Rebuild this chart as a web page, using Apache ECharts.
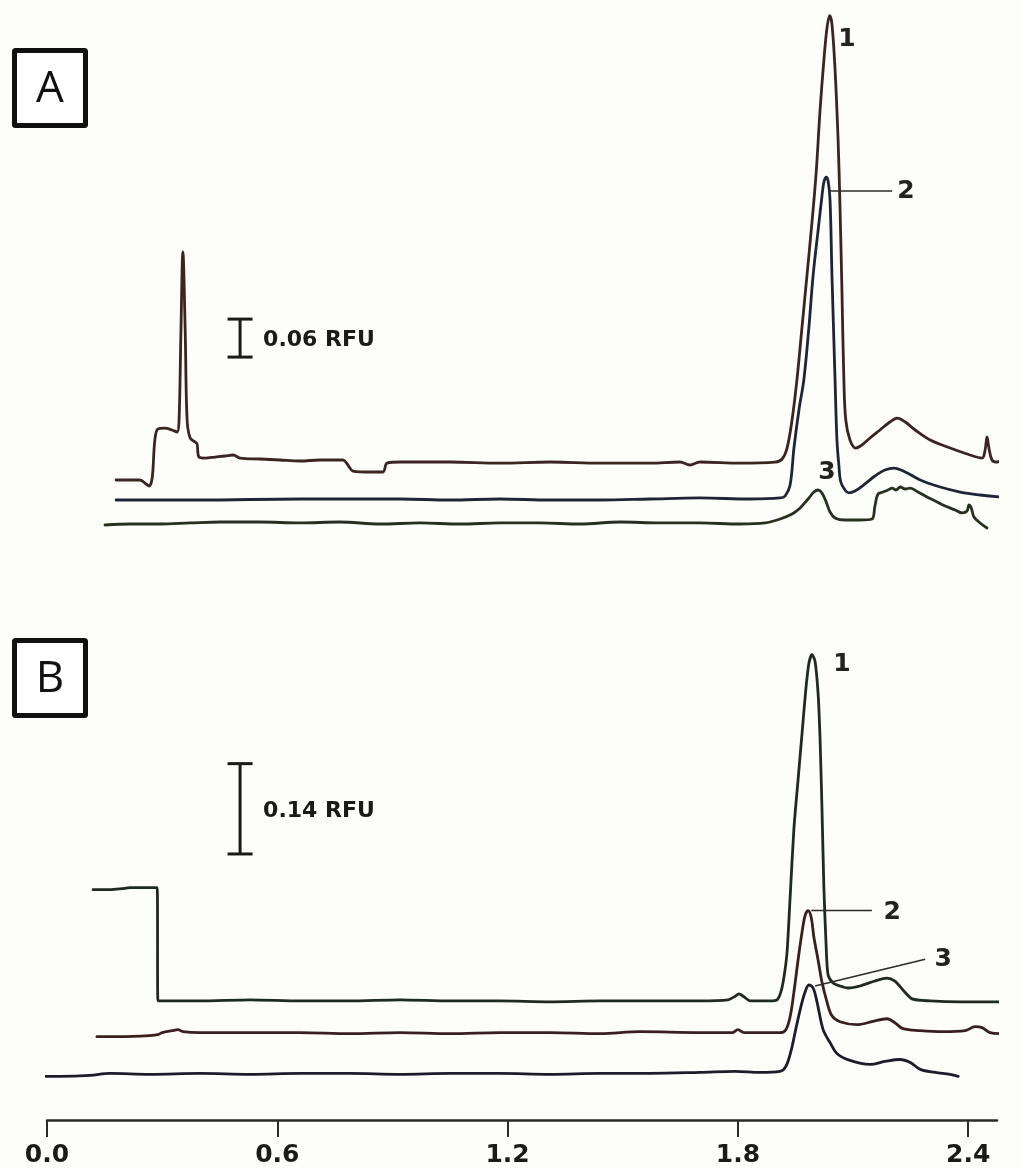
<!DOCTYPE html>
<html>
<head>
<meta charset="utf-8">
<title>Electropherograms A and B</title>
<script src="https://cdn.jsdelivr.net/npm/echarts@6/dist/echarts.min.js"></script>
<style>
  html, body { margin: 0; padding: 0; background: #fdfdfa; }
  #chart { width: 1021px; height: 1168px; }
</style>
</head>
<body>
<div id="chart"></div>
<script>
// Migration time (min) vs. fluorescence (RFU); traces are drawn with vertical offsets.
const timeTicks = [0.0, 0.6, 1.2, 1.8, 2.4];

// ---- Panel A ----
const traceA1 = [
  [0.180, 0.0948], [0.242, 0.0948], [0.258, 0.0885], [0.266, 0.0853], [0.274, 0.0979],
  [0.281, 0.158], [0.289, 0.1754], [0.307, 0.1769], [0.326, 0.1738], [0.339, 0.1706],
  [0.344, 0.1896], [0.349, 0.3318], [0.354, 0.4550], [0.360, 0.3318], [0.365, 0.1896],
  [0.373, 0.1611], [0.386, 0.1548], [0.391, 0.1517], [0.396, 0.1311], [0.412, 0.1295],
  [0.438, 0.1311], [0.464, 0.1327], [0.485, 0.1343], [0.503, 0.1295], [0.555, 0.1280],
  [0.607, 0.1264], [0.659, 0.1248], [0.711, 0.1264], [0.771, 0.1264], [0.784, 0.1185],
  [0.797, 0.1090], [0.842, 0.1074], [0.875, 0.1074], [0.886, 0.1216], [0.920, 0.1232],
  [1.050, 0.1232], [1.180, 0.1216], [1.311, 0.1232], [1.441, 0.1216], [1.571, 0.1216],
  [1.649, 0.1232], [1.675, 0.1185], [1.701, 0.1232], [1.806, 0.1216], [1.897, 0.1232],
  [1.915, 0.1280], [1.928, 0.1453], [1.941, 0.1896], [1.954, 0.2543], [1.967, 0.3365],
  [1.980, 0.4186], [1.993, 0.5024], [2.004, 0.5813], [2.014, 0.6793], [2.024, 0.7583],
  [2.032, 0.8088], [2.039, 0.8286], [2.045, 0.8152], [2.053, 0.7441], [2.061, 0.6319],
  [2.066, 0.5261], [2.071, 0.3949], [2.076, 0.2543], [2.081, 0.1896], [2.092, 0.1580],
  [2.107, 0.1453], [2.123, 0.1501], [2.144, 0.1611], [2.170, 0.1738], [2.196, 0.1864],
  [2.215, 0.1927], [2.236, 0.1864], [2.262, 0.1738], [2.301, 0.1580], [2.353, 0.1453],
  [2.405, 0.1343], [2.436, 0.1295], [2.444, 0.1422], [2.449, 0.1627], [2.454, 0.1453],
  [2.462, 0.1264], [2.473, 0.1232], [2.483, 0.1248], [2.493, 0.1280], [2.504, 0.1232],
  [2.527, 0.1216]
];
const traceA2 = [
  [0.180, 0.0632], [0.399, 0.0632], [0.659, 0.0648], [0.920, 0.0648], [1.050, 0.0632],
  [1.180, 0.0648], [1.311, 0.0632], [1.441, 0.0632], [1.571, 0.0648], [1.701, 0.0664],
  [1.832, 0.0648], [1.910, 0.0664], [1.923, 0.0695], [1.936, 0.0869], [1.946, 0.1453],
  [1.959, 0.2054], [1.972, 0.2543], [1.985, 0.3365], [1.996, 0.4186], [2.009, 0.4897],
  [2.019, 0.5434], [2.024, 0.5655], [2.030, 0.5734], [2.035, 0.5671], [2.040, 0.5371],
  [2.045, 0.4186], [2.050, 0.3160], [2.053, 0.2543], [2.058, 0.1580], [2.063, 0.1185],
  [2.068, 0.0916], [2.079, 0.0790], [2.089, 0.0743], [2.105, 0.0774], [2.131, 0.0885],
  [2.157, 0.1011], [2.183, 0.1106], [2.207, 0.1137], [2.236, 0.1074], [2.275, 0.0948],
  [2.327, 0.0837], [2.379, 0.0758], [2.431, 0.0711], [2.483, 0.0679], [2.527, 0.0664]
];
const traceA3 = [
  [0.151, 0.0237], [0.216, 0.0253], [0.294, 0.0253], [0.373, 0.0269], [0.451, 0.0284],
  [0.555, 0.0284], [0.659, 0.0269], [0.763, 0.0284], [0.868, 0.0253], [0.972, 0.0269],
  [1.076, 0.0253], [1.180, 0.0269], [1.285, 0.0269], [1.389, 0.0253], [1.493, 0.0284],
  [1.597, 0.0269], [1.701, 0.0269], [1.806, 0.0253], [1.871, 0.0269], [1.910, 0.0332],
  [1.941, 0.0411], [1.962, 0.0506], [1.983, 0.0648], [1.998, 0.0758], [2.009, 0.0790],
  [2.019, 0.0743], [2.030, 0.0600], [2.040, 0.0442], [2.053, 0.0348], [2.079, 0.0316],
  [2.118, 0.0316], [2.149, 0.0332], [2.157, 0.0537], [2.165, 0.0727], [2.178, 0.0758],
  [2.191, 0.0790], [2.202, 0.0821], [2.212, 0.0790], [2.223, 0.0837], [2.236, 0.0806],
  [2.249, 0.0821], [2.269, 0.0758], [2.288, 0.0695], [2.314, 0.0616], [2.340, 0.0537],
  [2.366, 0.0474], [2.384, 0.0427], [2.397, 0.0458], [2.402, 0.0553], [2.408, 0.0506],
  [2.415, 0.0363], [2.431, 0.0269], [2.449, 0.0190]
];

// ---- Panel B ----
const traceB1 = [
  [0.120, 0.3569], [0.164, 0.3569], [0.195, 0.3585], [0.216, 0.3600], [0.255, 0.3600],
  [0.287, 0.3600], [0.289, 0.1846], [0.399, 0.1846], [0.529, 0.1862], [0.659, 0.1846],
  [0.789, 0.1846], [0.920, 0.1862], [1.050, 0.1846], [1.180, 0.1846], [1.311, 0.1831],
  [1.441, 0.1846], [1.571, 0.1846], [1.701, 0.1846], [1.774, 0.1862], [1.790, 0.1908],
  [1.803, 0.1954], [1.816, 0.1908], [1.832, 0.1846], [1.884, 0.1846], [1.902, 0.1862],
  [1.912, 0.1985], [1.920, 0.2215], [1.928, 0.2600], [1.936, 0.3446], [1.946, 0.4523],
  [1.957, 0.5292], [1.967, 0.5985], [1.977, 0.6677], [1.985, 0.7077], [1.993, 0.7215],
  [2.001, 0.7108], [2.009, 0.6600], [2.014, 0.5908], [2.019, 0.4831], [2.024, 0.3600],
  [2.030, 0.2677], [2.035, 0.2246], [2.048, 0.2123], [2.066, 0.2077], [2.087, 0.2046],
  [2.118, 0.2077], [2.157, 0.2154], [2.188, 0.2200], [2.209, 0.2154], [2.230, 0.2015],
  [2.254, 0.1877], [2.301, 0.1846], [2.379, 0.1831], [2.457, 0.1831], [2.527, 0.1831]
];
const traceB2 = [
  [0.130, 0.1292], [0.190, 0.1292], [0.268, 0.1308], [0.289, 0.1323], [0.300, 0.1354],
  [0.326, 0.1385], [0.341, 0.1400], [0.354, 0.1369], [0.399, 0.1354], [0.529, 0.1354],
  [0.659, 0.1354], [0.789, 0.1338], [0.920, 0.1354], [1.050, 0.1338], [1.180, 0.1354],
  [1.311, 0.1354], [1.441, 0.1338], [1.545, 0.1369], [1.701, 0.1354], [1.785, 0.1354],
  [1.800, 0.1400], [1.816, 0.1354], [1.910, 0.1354], [1.925, 0.1400], [1.936, 0.1600],
  [1.946, 0.1985], [1.957, 0.2492], [1.967, 0.2908], [1.975, 0.3169], [1.983, 0.3246],
  [1.991, 0.3138], [1.998, 0.2831], [2.009, 0.2477], [2.019, 0.2138], [2.032, 0.1831],
  [2.045, 0.1615], [2.066, 0.1523], [2.110, 0.1477], [2.149, 0.1523], [2.188, 0.1569],
  [2.209, 0.1508], [2.230, 0.1415], [2.275, 0.1385], [2.335, 0.1369], [2.392, 0.1385],
  [2.418, 0.1446], [2.436, 0.1431], [2.457, 0.1354], [2.483, 0.1338], [2.527, 0.1338]
];
const traceB3 = [
  [-0.023, 0.0677], [0.034, 0.0677], [0.112, 0.0692], [0.164, 0.0723], [0.268, 0.0708],
  [0.399, 0.0723], [0.529, 0.0708], [0.659, 0.0723], [0.789, 0.0723], [0.920, 0.0708],
  [1.050, 0.0723], [1.180, 0.0723], [1.311, 0.0708], [1.441, 0.0723], [1.571, 0.0723],
  [1.701, 0.0738], [1.793, 0.0754], [1.858, 0.0738], [1.910, 0.0754], [1.925, 0.0831],
  [1.938, 0.1062], [1.951, 0.1415], [1.964, 0.1754], [1.975, 0.1985], [1.985, 0.2092],
  [1.996, 0.2046], [2.006, 0.1831], [2.022, 0.1400], [2.040, 0.1200], [2.058, 0.1031],
  [2.092, 0.0923], [2.144, 0.0862], [2.183, 0.0908], [2.222, 0.0938], [2.249, 0.0892],
  [2.275, 0.0785], [2.314, 0.0738], [2.353, 0.0708], [2.374, 0.0677]
];

// Peak numbers: [text, time, RFU]
const peakLabelsA = [['1', 2.084, 0.790], ['2', 2.238, 0.5513], ['3', 2.032, 0.1074]];
const peakLabelsB = [['1', 2.071, 0.7062], ['2', 2.202, 0.3215], ['3', 2.335, 0.2492]];
// Leader lines from a peak apex to its number
const leaderA2 = [[2.040, 0.5513], [2.202, 0.5513]];
const leaderB2 = [[1.991, 0.3246], [2.149, 0.3246]];
const leaderB3 = [[2.001, 0.2077], [2.288, 0.2492]];
// Scale bars: [time, lower RFU, span RFU, caption]
const scaleBarA = [[0.503, 0.289, 0.06, '0.06 RFU']];
const scaleBarB = [[0.503, 0.4123, 0.14, '0.14 RFU']];

const traceColors = {
  A1: '#3c2421', A2: '#1e2536', A3: '#26301f',
  B1: '#1f2b1d', B2: '#3b1f1f', B3: '#1c1c2a'
};

const X_MAX = 2.475;

function traceSeries(name, data, grid, color, smooth) {
  return {
    name: name, type: 'line', data: data,
    xAxisIndex: grid, yAxisIndex: grid,
    showSymbol: false, symbol: 'none', clip: false,
    smooth: smooth,
    lineStyle: { color: color, width: 2.8, join: 'round', cap: 'round' },
    z: 3
  };
}

function leaderSeries(data, grid) {
  return {
    type: 'line', data: data, xAxisIndex: grid, yAxisIndex: grid,
    showSymbol: false, symbol: 'none', clip: false,
    lineStyle: { color: '#2b2b2b', width: 1.6 }, z: 4
  };
}

function labelSeries(labels, grid) {
  return {
    type: 'custom', xAxisIndex: grid, yAxisIndex: grid, clip: false, z: 5,
    data: labels.map(function (d) { return [d[1], d[2]]; }),
    renderItem: function (params, api) {
      const p = api.coord([api.value(0), api.value(1)]);
      return {
        type: 'text', x: p[0], y: p[1],
        style: {
          text: labels[params.dataIndex][0],
          font: 'bold 25px "DejaVu Sans"',
          fill: '#222',
          textAlign: 'center', textVerticalAlign: 'middle'
        }
      };
    }
  };
}

function scaleBarSeries(bar, grid) {
  return {
    type: 'custom', xAxisIndex: grid, yAxisIndex: grid, clip: false, z: 5,
    data: bar.map(function (d) { return [d[0], d[1], d[2]]; }),
    renderItem: function (params, api) {
      const t = api.value(0), lo = api.value(1), span = api.value(2);
      const pLo = api.coord([t, lo]);
      const pHi = api.coord([t, lo + span]);
      const half = 12.5;
      const ls = { stroke: '#1a1a1a', lineWidth: 3 };
      return {
        type: 'group',
        children: [
          { type: 'line', shape: { x1: pLo[0], y1: pLo[1], x2: pHi[0], y2: pHi[1] }, style: ls },
          { type: 'line', shape: { x1: pLo[0] - half, y1: pLo[1], x2: pLo[0] + half, y2: pLo[1] }, style: ls },
          { type: 'line', shape: { x1: pHi[0] - half, y1: pHi[1], x2: pHi[0] + half, y2: pHi[1] }, style: ls },
          {
            type: 'text', x: pLo[0] + 23, y: (pLo[1] + pHi[1]) / 2 + 2,
            style: {
              text: bar[params.dataIndex][3],
              font: 'bold 22px "DejaVu Sans"', fill: '#1a1a1a',
              textAlign: 'left', textVerticalAlign: 'middle'
            }
          }
        ]
      };
    }
  };
}

// Framed panel letters
function panelBox(letter, top) {
  return [
    { type: 'rect', z: 10, shape: { x: 14.5, y: top + 2.5, width: 71, height: 75, r: 1 },
      style: { fill: '#ffffff', stroke: '#111', lineWidth: 5 } },
    { type: 'text', z: 11, x: 50, y: top + 41,
      style: { text: letter, font: '44px "Open Sans"', fill: '#111',
               textAlign: 'center', textVerticalAlign: 'middle' } }
  ];
}

const chart = echarts.init(document.getElementById('chart'), null, { renderer: 'canvas' });

chart.setOption({
  animation: false,
  backgroundColor: '#fdfdfa',
  grid: [
    { left: 47, right: 24, top: 2, height: 538 },
    { left: 47, right: 24, top: 578, height: 546 }
  ],
  xAxis: [
    { gridIndex: 0, type: 'value', min: 0, max: X_MAX, show: false },
    {
      gridIndex: 1, type: 'value', min: 0, max: X_MAX, interval: 0.6,
      axisLine: { show: true, lineStyle: { color: '#2a2a2a', width: 2.5 } },
      axisTick: {
        show: true, inside: false, length: 17, customValues: timeTicks,
        lineStyle: { color: '#2a2a2a', width: 2 }
      },
      splitLine: { show: false },
      axisLabel: {
        show: true, margin: 23, color: '#1a1a1a',
        fontFamily: 'DejaVu Sans', fontWeight: 'bold', fontSize: 25,
        customValues: timeTicks,
        formatter: function (v) { return v.toFixed(1); }
      }
    }
  ],
  yAxis: [
    { gridIndex: 0, type: 'value', min: 0, max: 0.85, show: false },
    { gridIndex: 1, type: 'value', min: 0, max: 0.84, show: false }
  ],
  graphic: panelBox('A', 48).concat(panelBox('B', 638)),
  series: [
    traceSeries('A1', traceA1, 0, traceColors.A1, 0.35),
    traceSeries('A2', traceA2, 0, traceColors.A2, 0.35),
    traceSeries('A3', traceA3, 0, traceColors.A3, 0.35),
    traceSeries('B1', traceB1, 1, traceColors.B1, 0.25),
    traceSeries('B2', traceB2, 1, traceColors.B2, 0.35),
    traceSeries('B3', traceB3, 1, traceColors.B3, 0.35),
    leaderSeries(leaderA2, 0),
    leaderSeries(leaderB2, 1),
    leaderSeries(leaderB3, 1),
    labelSeries(peakLabelsA, 0),
    labelSeries(peakLabelsB, 1),
    scaleBarSeries(scaleBarA, 0),
    scaleBarSeries(scaleBarB, 1)
  ]
});
</script>
</body>
</html>
